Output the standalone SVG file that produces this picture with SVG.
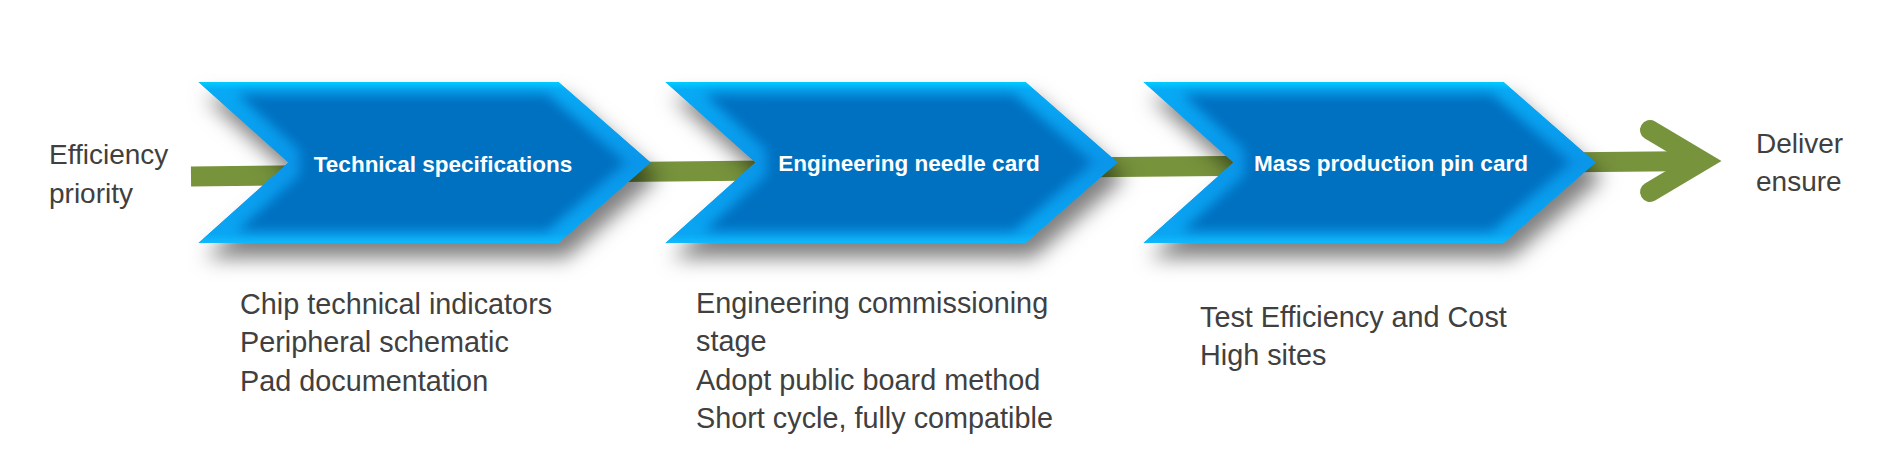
<svg xmlns="http://www.w3.org/2000/svg" xmlns:xlink="http://www.w3.org/1999/xlink" width="1888" height="456" viewBox="0 0 1888 456">
  <style>
    .lbl { font-family: "Liberation Sans", Arial, sans-serif; font-size: 28px; fill: #404040; }
    .note { font-size: 28.8px; }
    .ttl { font-family: "Liberation Sans", Arial, sans-serif; font-size: 22.5px; font-weight: bold; fill: #ffffff; text-anchor: middle; }
    .conn { fill: none; stroke: #77933C; stroke-width: 20; }
  </style>
  <defs>
    <linearGradient id="face" x1="0" y1="0" x2="0" y2="1">
      <stop offset="0" stop-color="#00CCFF"/>
      <stop offset="0.05" stop-color="#08AAF5"/>
      <stop offset="0.5" stop-color="#0A96EA"/>
      <stop offset="0.94" stop-color="#0AA6F3"/>
      <stop offset="1" stop-color="#10BAFB"/>
    </linearGradient>
    <filter id="bevel" x="-10%" y="-20%" width="125%" height="165%" color-interpolation-filters="sRGB">
      <feGaussianBlur in="SourceAlpha" stdDeviation="10" result="sb"/>
      <feOffset in="sb" dx="7" dy="15" result="so"/>
      <feFlood flood-color="#000000" flood-opacity="0.5"/>
      <feComposite in2="so" operator="in" result="shadow"/>
      <feMorphology in="SourceAlpha" operator="erode" radius="12" result="er"/>
      <feGaussianBlur in="er" stdDeviation="6" result="erb"/>
      <feFlood flood-color="#0070C0"/>
      <feComposite in2="erb" operator="in" result="inner"/>
      <feMerge result="face"><feMergeNode in="SourceGraphic"/><feMergeNode in="inner"/></feMerge>
      <feComposite in="face" in2="SourceAlpha" operator="in" result="faceclip"/>
      <feMerge><feMergeNode in="shadow"/><feMergeNode in="faceclip"/></feMerge>
    </filter>
    <path id="chev" d="M0,0 L361,0 L453,80.5 L361,161 L0,161 L90,80.5 Z" fill="url(#face)"/>
  </defs>

  <rect width="1888" height="456" fill="#ffffff"/>

  <g id="connectors">
    <line class="conn" x1="191" y1="176.5" x2="1702" y2="161" stroke-width="19"/>
    <polyline class="conn" points="1650,130 1702,161 1650,192" stroke-linecap="round" stroke-linejoin="miter"/>
  </g>

  <g id="start-label">
    <text class="lbl" x="49" y="164">Efficiency</text>
    <text class="lbl" x="49" y="202.5">priority</text>
  </g>

  <g id="node-technical-specifications">
    <use xlink:href="#chev" href="#chev" x="198" y="82" filter="url(#bevel)"/>
    <text class="ttl" x="443" y="172">Technical specifications</text>
  </g>

  <g id="node-engineering-needle-card">
    <use xlink:href="#chev" href="#chev" x="665" y="82" filter="url(#bevel)"/>
    <text class="ttl" x="909" y="171">Engineering needle card</text>
  </g>

  <g id="node-mass-production-pin-card">
    <use xlink:href="#chev" href="#chev" x="1143" y="82" filter="url(#bevel)"/>
    <text class="ttl" x="1391" y="171">Mass production pin card</text>
  </g>

  <g id="end-label">
    <text class="lbl" x="1756" y="152.5">Deliver</text>
    <text class="lbl" x="1756" y="190.5">ensure</text>
  </g>

  <g id="notes-technical-specifications">
    <text class="lbl note" x="240" y="314">Chip technical indicators</text>
    <text class="lbl note" x="240" y="352">Peripheral schematic</text>
    <text class="lbl note" x="240" y="390.5">Pad documentation</text>
  </g>

  <g id="notes-engineering-needle-card">
    <text class="lbl note" x="696" y="313">Engineering commissioning</text>
    <text class="lbl note" x="696" y="351">stage</text>
    <text class="lbl note" x="696" y="389.5">Adopt public board method</text>
    <text class="lbl note" x="696" y="428">Short cycle, fully compatible</text>
  </g>

  <g id="notes-mass-production-pin-card">
    <text class="lbl note" x="1200" y="326.5">Test Efficiency and Cost</text>
    <text class="lbl note" x="1200" y="365">High sites</text>
  </g>
</svg>
